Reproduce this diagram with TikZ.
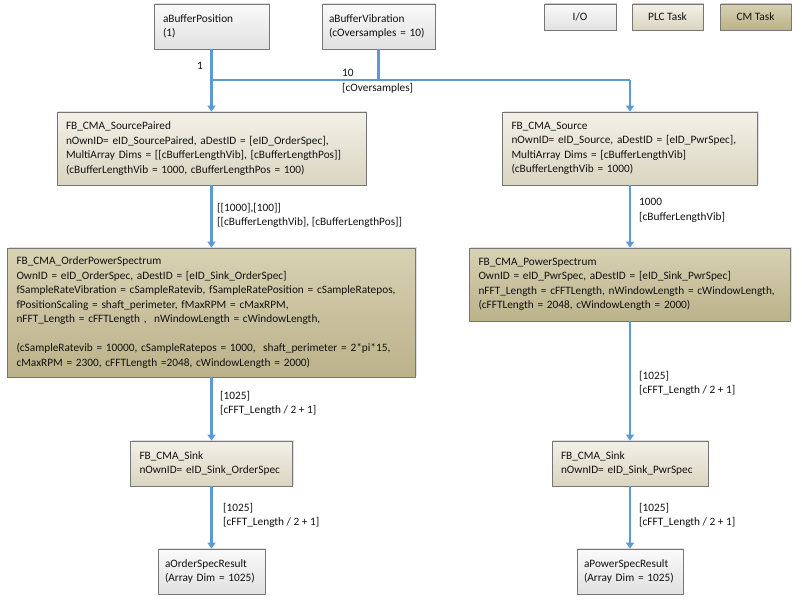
\documentclass[tikz,border=0pt]{standalone}
\usepackage{fontspec}
\setmainfont{Carlito}
\usetikzlibrary{arrows.meta,shadows}
\definecolor{lnk}{HTML}{5B9BD5}
\definecolor{bline}{HTML}{767676}
\definecolor{ioT}{HTML}{FAFAFA}
\definecolor{ioB}{HTML}{E1E1E1}
\definecolor{plcT}{HTML}{F3F1E8}
\definecolor{plcB}{HTML}{DAD5C0}
\definecolor{cmT}{HTML}{D8D1B3}
\definecolor{cmB}{HTML}{BBB28A}
\definecolor{txt}{HTML}{111111}
\tikzset{
  box/.style={draw=bline, line width=0.8pt, inner xsep=9pt, inner ysep=0pt, align=left,
    text=txt, drop shadow={opacity=0.25, shadow xshift=1.2pt, shadow yshift=1.2pt}},
  iobox/.style={box, top color=ioT, bottom color=ioB},
  plcbox/.style={box, top color=plcT, bottom color=plcB},
  cmbox/.style={box, top color=cmT, bottom color=cmB},
  legbox/.style={box, align=center, inner xsep=0pt, text=black},
  wire/.style={draw=lnk, line width=2.4pt},
  arr/.style={wire, -{Triangle[width=8pt,length=6pt]}},
  lbl/.style={anchor=north west, inner sep=0pt, align=left, text=txt}
}
\begin{document}
\begin{tikzpicture}[x=1pt,y=-1pt,font=\fontsize{11.3}{14.5}\selectfont]
\useasboundingbox (0,0) rectangle (802,605);
\fill[white] (0,0) rectangle (802,605);

% legend
\node[legbox, iobox, align=center, minimum width=72pt, minimum height=26pt] (lio) at (580,17) {I/O};
\node[legbox, plcbox, align=center, minimum width=71pt, minimum height=26pt] (lplc) at (667.5,17) {PLC Task};
\node[legbox, cmbox, align=center, minimum width=71pt, minimum height=26pt] (lcm) at (755.5,17) {CM Task};

% inputs
\node[iobox, text width=97pt, minimum height=45pt] (bp) at (211.5,26.5) {aBufferPosition\\(1)};
\node[iobox, inner xsep=7pt, text width=99pt, minimum height=45pt] (bv) at (378.5,26.5) {\mbox{aBufferVibration}\\\mbox{(cOversamples = 10)}};

% sources
\node[plcbox, text width=291pt, minimum height=73pt] (sp) at (211.5,148.5) {FB\_CMA\_SourcePaired\\nOwnID= eID\_SourcePaired, aDestID = [eID\_OrderSpec],\\MultiArray Dims = [[cBufferLengthVib], [cBufferLengthPos]]\\(cBufferLengthVib = 1000, cBufferLengthPos = 100)};
\node[plcbox, text width=237pt, minimum height=73pt] (src) at (630,148.5) {FB\_CMA\_Source\\nOwnID= eID\_Source, aDestID = [eID\_PwrSpec],\\MultiArray Dims = [cBufferLengthVib]\\(cBufferLengthVib = 1000)};

% spectra
\node[cmbox, text width=390pt, minimum height=129pt] (ops) at (211.5,312.5) {FB\_CMA\_OrderPowerSpectrum\\OwnID = eID\_OrderSpec, aDestID = [eID\_Sink\_OrderSpec]\\fSampleRateVibration = cSampleRatevib, fSampleRatePosition = cSampleRatepos,\\fPositionScaling = shaft\_perimeter, fMaxRPM = cMaxRPM,\\nFFT\_Length = cFFTLength ,\ \ nWindowLength = cWindowLength,\\[14.5pt](cSampleRatevib = 10000, cSampleRatepos = 1000,\ \ shaft\_perimeter = 2*pi*15,\\cMaxRPM = 2300, cFFTLength =2048, cWindowLength = 2000)};
\node[cmbox, text width=303pt, minimum height=73pt] (ps) at (630,284.5) {FB\_CMA\_PowerSpectrum\\OwnID = eID\_PwrSpec, aDestID = [eID\_Sink\_PwrSpec]\\nFFT\_Length = cFFTLength, nWindowLength = cWindowLength,\\(cFFTLength = 2048, cWindowLength = 2000)};

% sinks
\node[plcbox, text width=144pt, minimum height=45pt] (skl) at (211.5,463.5) {FB\_CMA\_Sink\\nOwnID= eID\_Sink\_OrderSpec};
\node[plcbox, text width=138pt, minimum height=45pt] (skr) at (630,463.5) {FB\_CMA\_Sink\\nOwnID= eID\_Sink\_PwrSpec};

% results
\node[iobox, inner xsep=7pt, text width=93pt, minimum height=45pt] (rl) at (211.5,571.5) {\mbox{aOrderSpecResult}\\\mbox{(Array Dim = 1025)}};
\node[iobox, inner xsep=7pt, text width=92pt, minimum height=45pt] (rr) at (630,571.5) {\mbox{aPowerSpecResult}\\\mbox{(Array Dim = 1025)}};

% connectors
\coordinate (jl) at (211.5,80);
\coordinate (jr) at (630,80);
\draw[wire] (bv.south) -- (bv.south |- jl);
\draw[wire, line width=2pt] (jl) -- (jr);
\draw[arr] (bp.south) -- (sp.north);
\draw[arr] (jr) -- (src.north);
\draw[arr] (sp.south) -- (ops.north);
\draw[arr] (src.south) -- (ps.north);
\draw[arr] (ops.south) -- (skl.north);
\draw[arr] (ps.south) -- (skr.north);
\draw[arr] (skl.south) -- (rl.north);
\draw[arr] (skr.south) -- (rr.north);

% labels
\node[lbl] (l1) at (197,62) {1};
\node[lbl] (l10) at (342,69) {10\\{}[cOversamples]};
\node[lbl] (lsp) at (217,203) {[[1000],[100]]\\{}[[cBufferLengthVib], [cBufferLengthPos]]};
\node[lbl] (lsrc) at (639,198) {1000\\{}[cBufferLengthVib]};
\node[lbl] (lops) at (220,391) {[1025]\\{}[cFFT\_Length / 2 + 1]};
\node[lbl] (lps) at (639,371) {[1025]\\{}[cFFT\_Length / 2 + 1]};
\node[lbl] (lskl) at (223,503) {[1025]\\{}[cFFT\_Length / 2 + 1]};
\node[lbl] (lskr) at (639,503) {[1025]\\{}[cFFT\_Length / 2 + 1]};
\end{tikzpicture}
\end{document}
